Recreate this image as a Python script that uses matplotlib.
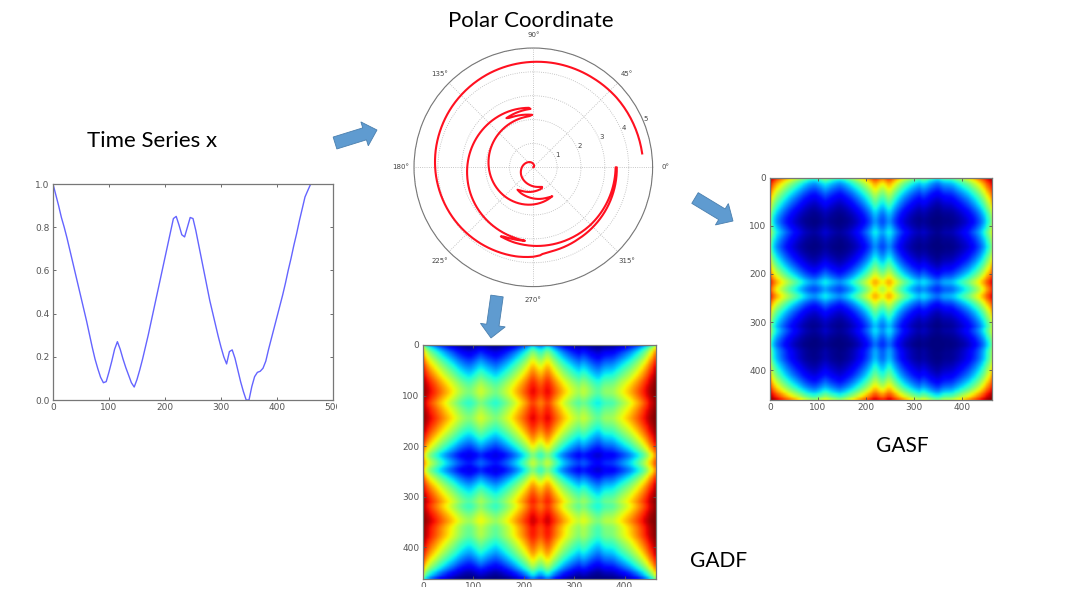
import numpy as np
import matplotlib
matplotlib.use('Agg')
import matplotlib.pyplot as plt
from matplotlib.patches import FancyArrow, Rectangle

# series, one value every 5 steps
t = np.arange(0, 461, 5)
x = np.array([
    1.0, .95, .90, .845, .80, .75, .695, .64, .585, .53,
    .475, .42, .365, .305, .245, .19, .145, .105, .08, .085,
    .13, .18, .235, .27, .235, .19, .15, .115, .08, .06,
    .095, .14, .19, .245, .30, .36, .42, .48, .54, .60,
    .66, .72, .78, .84, .85, .81, .765, .755, .80, .845,
    .84, .785, .72, .655, .59, .525, .46, .405, .35, .295,
    .245, .20, .167, .224, .232, .193, .139, .085, .039, 0.0,
    0.0, .062, .108, .128, .133, .147, .18, .235, .285, .335,
    .385, .435, .485, .54, .60, .655, .715, .77, .83, .885,
    .94, .97, .999])

series_xticks = [0, 100, 200, 300, 400, 500]
series_yticks = [0.0, 0.2, 0.4, 0.6, 0.8, 1.0]
image_ticks = [0, 100, 200, 300, 400]
radial_ticks = [1, 2, 3, 4, 5]

W, H = 1080, 610
tick_col = '#555555'
spine_col = '#777777'


def px_axes(x0, y0, x1, y1, **kw):
    # axes from pixel box, y counted from the top
    return fig.add_axes([x0 / W, 1 - y1 / H, (x1 - x0) / W, (y1 - y0) / H], **kw)


def style(ax):
    ax.tick_params(labelsize=6.5, length=2, width=.6, direction='in', colors=tick_col, pad=2.5,
                   top=True, right=True)
    for s in ax.spines.values():
        s.set_color(spine_col)
        s.set_linewidth(.9)


fig = plt.figure(figsize=(W / 100, H / 100), dpi=100, facecolor='white')

# time series
ax1 = px_axes(53, 184, 333, 400)
ax1.plot(t, x, color='#6464ff', lw=1)
ax1.set_xlim(0, 500)
ax1.set_ylim(0, 1)
ax1.set_xticks(series_xticks)
ax1.set_yticks(series_yticks)
style(ax1)

# polar coordinate
r = t / 100
theta = 2 * np.arccos(np.clip(2 * x - 1, -1, 1))
ax2 = px_axes(533.3 - 119.3, 167.3 - 119.3, 533.3 + 119.3, 167.3 + 119.3, projection='polar')
line, = ax2.plot(theta, r, color='#ff1020', lw=1.5)
line.get_path()._interpolation_steps = 20  # curved segments between the read values
ax2.set_rlim(0, 5)
ax2.set_rticks(radial_ticks)
ax2.set_rlabel_position(22.5)
ax2.grid(color='#b5b5b5', ls=':', lw=.6)
ax2.tick_params(labelsize=5, colors='#444444', pad=-1)
ax2.spines['polar'].set_color(spine_col)
ax2.spines['polar'].set_linewidth(.8)

# angular fields
phi = np.arccos(x)
gasf = np.cos(phi[:, None] + phi[None, :])
gadf = np.sin(phi[:, None] - phi[None, :])

for box, mat in [((770, 178, 992, 400), gasf), ((423, 345, 656, 579), gadf)]:
    ax = px_axes(*box)
    ax.imshow(mat, cmap='jet', vmin=-1, vmax=1, interpolation='gaussian', aspect='auto',
              extent=(-2.5, 462.5, 462.5, -2.5))
    ax.set_xlim(0, 462.5)
    ax.set_ylim(462.5, 0)
    ax.set_xticks(image_ticks)
    ax.set_yticks(image_ticks)
    style(ax)

# overlay in pixel coordinates for slide text, arrows and crops
top = fig.add_axes([0, 0, 1, 1], facecolor='none')
top.set_xlim(0, W)
top.set_ylim(H, 0)
top.axis('off')

top.add_patch(Rectangle((0, 587), W, 23, fc='white', ec='none'))
top.add_patch(Rectangle((337, 400), 30, 20, fc='white', ec='none'))

for (xa, ya, xb, yb) in [(335, 143, 377, 130), (695, 198, 733, 221), (497, 296, 491, 338)]:
    top.add_patch(FancyArrow(xa, ya, xb - xa, yb - ya, width=12.5, head_width=25, head_length=13,
                             length_includes_head=True, fc='#5f9bd0', ec='#4a7fae', lw=.6))

for s, xc, yc, fs in [('Time Series x', 152, 141, 16), ('Polar Coordinate', 531, 21, 16),
                      ('GASF', 902, 446, 15), ('GADF', 719, 561, 15)]:
    top.text(xc, yc, s, ha='center', va='center', fontsize=fs, family='Lato', color='black')

fig.savefig('out.png', dpi=100)
